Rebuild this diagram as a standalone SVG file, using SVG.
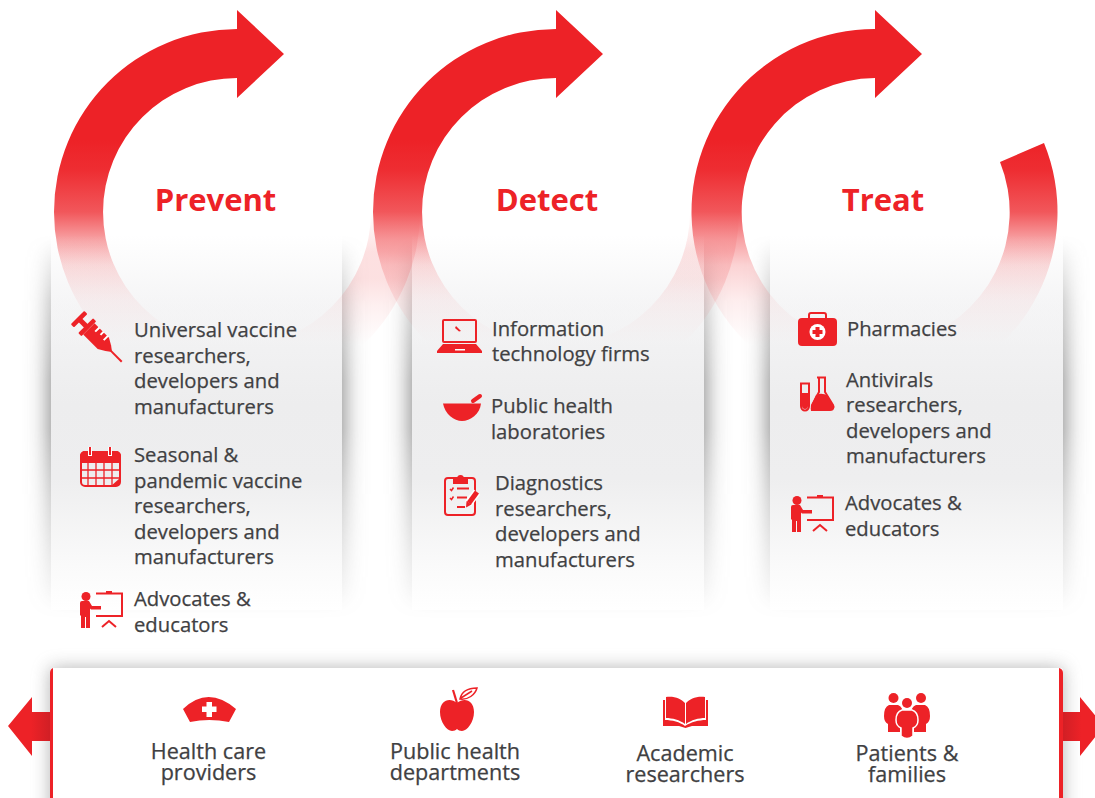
<svg xmlns="http://www.w3.org/2000/svg" width="1095" height="798" viewBox="0 0 1095 798">
<style>
.t{font-family:"Open Sans","Noto Sans","Liberation Sans",sans-serif;font-size:20.250px;fill:#404042;stroke:#404042;stroke-width:.25px}
.b{font-size:21.600px}
.c{text-anchor:middle}
.h{font-family:"Open Sans","Noto Sans","Liberation Sans",sans-serif;font-size:31px;font-weight:700;fill:#ed2227;text-anchor:middle}
.r{fill:#ed2227}
.o{fill:none;stroke:#ed2227;stroke-width:2}
.w{fill:#fff}
</style>
<defs>
<linearGradient id="arc" gradientUnits="userSpaceOnUse" x1="0" y1="110" x2="0" y2="345">
<stop offset="0" stop-color="#ed2227"/>
<stop offset=".128" stop-color="#ed2227"/>
<stop offset=".255" stop-color="#ed2227" stop-opacity=".95"/>
<stop offset=".434" stop-color="#ed2227" stop-opacity=".76"/>
<stop offset=".553" stop-color="#ed2227" stop-opacity=".42"/>
<stop offset=".66" stop-color="#ed2227" stop-opacity=".2"/>
<stop offset=".81" stop-color="#ed2227" stop-opacity=".08"/>
<stop offset="1" stop-color="#ed2227" stop-opacity="0"/>
</linearGradient>
<linearGradient id="arcr" gradientUnits="userSpaceOnUse" x1="0" y1="212" x2="0" y2="345">
<stop offset="0" stop-color="#ed2227" stop-opacity="0"/>
<stop offset=".3" stop-color="#ed2227" stop-opacity=".14"/>
<stop offset=".5" stop-color="#ed2227" stop-opacity=".14"/>
<stop offset=".7" stop-color="#ed2227" stop-opacity=".07"/>
<stop offset="1" stop-color="#ed2227" stop-opacity="0"/>
</linearGradient>
<linearGradient id="panel" gradientUnits="userSpaceOnUse" x1="0" y1="235" x2="0" y2="610">
<stop offset="0" stop-color="#fff"/>
<stop offset=".2" stop-color="#f4f4f5"/>
<stop offset=".45" stop-color="#ededee"/>
<stop offset=".65" stop-color="#eeeeef"/>
<stop offset=".88" stop-color="#fafafa"/>
<stop offset="1" stop-color="#fff"/>
</linearGradient>
<linearGradient id="veil" gradientUnits="userSpaceOnUse" x1="0" y1="235" x2="0" y2="345">
<stop offset="0" stop-color="#fff" stop-opacity="0"/>
<stop offset=".5" stop-color="#f7f7f8" stop-opacity=".35"/>
<stop offset="1" stop-color="#f2f2f3" stop-opacity=".6"/>
</linearGradient>
<linearGradient id="sg" gradientUnits="userSpaceOnUse" x1="0" y1="235" x2="0" y2="620">
<stop offset="0" stop-color="#fff" stop-opacity="0"/>
<stop offset=".17" stop-color="#fff" stop-opacity=".5"/>
<stop offset=".38" stop-color="#fff" stop-opacity=".82"/>
<stop offset=".5" stop-color="#fff" stop-opacity=".82"/>
<stop offset=".7" stop-color="#fff" stop-opacity=".45"/>
<stop offset="1" stop-color="#fff" stop-opacity="0"/>
</linearGradient>
<linearGradient id="la" x1="0" x2="1" y1="0" y2="0"><stop offset="0" stop-color="#ed2227"/><stop offset=".55" stop-color="#ed2227"/><stop offset="1" stop-color="#d11f25"/></linearGradient>
<linearGradient id="ra" x1="0" x2="1" y1="0" y2="0"><stop offset="0" stop-color="#d11f25"/><stop offset=".45" stop-color="#ed2227"/><stop offset="1" stop-color="#ed2227"/></linearGradient>
<mask id="sm" maskUnits="userSpaceOnUse" x="0" y="200" width="1095" height="450"><rect x="0" y="200" width="1095" height="450" fill="url(#sg)"/></mask>
<filter id="b" x="-30%" y="-10%" width="160%" height="120%"><feGaussianBlur stdDeviation="12"/></filter>
<filter id="b2" x="-5%" y="-30%" width="110%" height="160%"><feGaussianBlur stdDeviation="9"/></filter>
<g id="presenter">
<circle class="r" cx="86" cy="596.500" r="4.500"/>
<path class="r" d="M80,603 q0,-2 2,-2 h7 l3,5 h9 v3.500 h-10 l-1,-1 v19.500 h-4 v-11 h-1 v11 h-4 v-12 l-1,-1 z"/>
<path class="o" d="M96,593.500 H122 V616 H96"/>
<rect class="r" x="106" y="591" width="6" height="3"/>
<path class="o" d="M102,627 L109,621 L116,627"/>
</g>
</defs>
<rect width="1095" height="798" fill="#fff"/>

<g id="panels">
<g mask="url(#sm)" fill="#555">
<rect x="51" y="235" width="291" height="375" filter="url(#b)"/>
<rect x="412" y="235" width="292" height="375" filter="url(#b)"/>
<rect x="770" y="235" width="293" height="375" filter="url(#b)"/>
</g>
<rect x="51" y="235" width="291" height="375" fill="url(#panel)"/>
<rect x="412" y="235" width="292" height="375" fill="url(#panel)"/>
<rect x="770" y="235" width="293" height="375" fill="url(#panel)"/>
</g>

<g id="connectors">
<path fill="url(#arcr)" d="M237,346 A134,134 0 0 0 371,212 H420 A183,183 0 0 1 237,395 Z"/>
<path fill="url(#arcr)" d="M556,346 A134,134 0 0 0 690,212 H739 A183,183 0 0 1 556,395 Z"/>
<path fill="url(#arc)" d="M237,10 L284,54 L237,98 V78 A134,134 0 0 0 237,346 V395 A183,183 0 0 1 237,29 Z"/>
<path fill="url(#arc)" d="M556,10 L603,54 L556,98 V78 A134,134 0 0 0 556,346 V395 A183,183 0 0 1 556,29 Z"/>
<path fill="url(#arc)" d="M875,10 L922,54 L875,98 V78 A134,134 0 1 0 1000,162 L1044,143 A183,183 0 1 1 875,29 Z"/>
</g>

<g id="panel-veils">
<rect x="51" y="235" width="291" height="110" fill="url(#veil)"/>
<rect x="412" y="235" width="292" height="110" fill="url(#veil)"/>
<rect x="770" y="235" width="293" height="110" fill="url(#veil)"/>
</g>

<g id="prevent">
<text class="h" x="215.500" y="211">Prevent</text>
<g id="universal-vaccine">
<g transform="translate(80,320) rotate(45)">
<rect class="r" x="-3.500" y="-9.500" width="4.500" height="19" rx="1"/>
<rect class="r" x="0" y="-2.500" width="9" height="5"/>
<rect class="r" x="8" y="-10.500" width="4.500" height="21" rx="1"/>
<path class="r" d="M12.500,-8 H33 L40,-4 L44,-1 V1 L40,4 L33,8 H12.500 Z"/>
<rect class="r" x="43" y="-1" width="16" height="2"/>
<path class="w" d="M18,-8.500 h2 v6 h-2z M24,-8.500 h2 v4.500 h-2z M30,-8.500 h2 v6 h-2z"/>
</g>
<text class="t"><tspan x="134" y="337">Universal vaccine</tspan><tspan x="134" y="362.500">researchers,</tspan><tspan x="134" y="388">developers and</tspan><tspan x="134" y="413.500">manufacturers</tspan></text>
</g>
<g id="seasonal-vaccine">
<rect x="81" y="452" width="39" height="34" rx="4" class="o"/>
<path class="r" d="M80,456 a5,5 0 0 1 5,-5 h31 a5,5 0 0 1 5,5 v7 h-41z"/>
<path fill="none" stroke="#ed2227" stroke-width="1.300" d="M81,470 H120 M81,478 H120 M88,463 V486 M96,463 V486 M104,463 V486 M112,463 V486"/>
<path class="w" d="M88,447 h4 v9 h-4z M108,447 h4 v9 h-4z"/>
<path class="r" d="M89,447 h2 v8 h-2z M109,447 h2 v8 h-2z M120,478 L111,486 H116 Q120,486 120,482z"/>
<text class="t"><tspan x="134" y="462">Seasonal &amp;</tspan><tspan x="134" y="487.500">pandemic vaccine</tspan><tspan x="134" y="513">researchers,</tspan><tspan x="134" y="538.500">developers and</tspan><tspan x="134" y="564">manufacturers</tspan></text>
</g>
<g id="advocates-1">
<use href="#presenter"/>
<text class="t"><tspan x="134" y="606">Advocates &amp;</tspan><tspan x="134" y="631.500">educators</tspan></text>
</g>
</g>

<g id="detect">
<text class="h" x="547" y="211">Detect</text>
<g id="it-firms">
<rect class="o" x="443" y="320" width="33" height="22" rx="1"/>
<path class="r" d="M443,344 H476 L482,351 V353 H437 V351 Z"/>
<rect class="w" x="455" y="349" width="10" height="1.500"/>
<path class="r" d="M456,326 L461,331 L459,331.500 L455,328z"/>
<text class="t"><tspan x="492" y="335.500">Information</tspan><tspan x="492" y="361">technology firms</tspan></text>
</g>
<g id="public-health-labs">
<path class="r" d="M443,403.500 H481 C480,414 470,421 462,421 C454,421 445,414 443,403.500 Z"/>
<path fill="none" stroke="#ed2227" stroke-width="4" stroke-linecap="round" d="M473,401 L480,396"/>
<text class="t"><tspan x="491" y="413">Public health</tspan><tspan x="491" y="438.500">laboratories</tspan></text>
</g>
<g id="diagnostics">
<rect class="o" x="445" y="478" width="30" height="37" rx="3"/>
<path class="r" d="M453,484 V479 H457 a3.500,4 0 0 1 7,0 H468 V484 Z"/>
<path fill="none" stroke="#ed2227" stroke-width="1.500" d="M450,489 l1.500,1.500 l2,-3 M450,498 l1.500,1.500 l2,-3"/>
<path fill="none" stroke="#ed2227" stroke-width="2" d="M457,488.500 H469 M457,497.500 H467 M457,507 H465"/>
<path fill="none" stroke="#fff" stroke-width="8" d="M477,492 L468,504"/>
<path fill="none" stroke="#ed2227" stroke-width="5" d="M477,492 L469,503"/>
<path class="r" d="M466.500,501 L471.500,504.500 L466,507.500 Z"/>
<text class="t"><tspan x="495" y="490">Diagnostics</tspan><tspan x="495" y="515.500">researchers,</tspan><tspan x="495" y="541">developers and</tspan><tspan x="495" y="566.500">manufacturers</tspan></text>
</g>
</g>

<g id="treat">
<text class="h" x="883" y="211">Treat</text>
<g id="pharmacies">
<rect class="o" x="809" y="313" width="17" height="8" rx="2"/>
<rect class="r" x="798" y="318" width="39" height="28" rx="4"/>
<circle class="w" cx="817.500" cy="332" r="8"/>
<path class="r" d="M815.500,327 h4 v3 h3 v4 h-3 v3 h-4 v-3 h-3 v-4 h3z"/>
<text class="t" x="847" y="335.500">Pharmacies</text>
</g>
<g id="antivirals">
<path class="o" d="M801,383.500 V406 a3.500,4 0 0 0 8,0 V383.500 M800,383.500 H810"/>
<path class="r" d="M802,393 h6 V406 a3,3 0 0 1 -6,0z"/>
<path class="o" d="M817,377.500 H826 M819,378 V392 L812,405 Q811,409 815,409 H830 Q835,409 833,405 L825,392 V378"/>
<path class="r" d="M816,395 Q822,392 828,396 L834,408 Q834,411 830,411 H811 Q810,408 812,404 Z"/>
<text class="t"><tspan x="846" y="387">Antivirals</tspan><tspan x="846" y="412">researchers,</tspan><tspan x="846" y="438">developers and</tspan><tspan x="846" y="463">manufacturers</tspan></text>
</g>
<g id="advocates-2">
<use href="#presenter" transform="translate(711,-96)"/>
<text class="t"><tspan x="845" y="510">Advocates &amp;</tspan><tspan x="845" y="535.500">educators</tspan></text>
</g>
</g>

<g id="stakeholders">
<rect x="50" y="668" width="1013" height="160" fill="#777" filter="url(#b2)" opacity=".55"/>
<path fill="url(#la)" d="M8,726 L32,697 V712 H50 V741 H32 V756 Z"/>
<path fill="url(#ra)" d="M1063,712 H1080 V697 L1104,726 L1080,756 V741 H1063 Z"/>
<rect x="50" y="668" width="1013" height="135" rx="3" fill="#fff"/>
<path class="r" d="M50,798 V673 Q50,669 53,668 V798 Z M1059,798 V668 Q1063,669 1063,673 V798 Z"/>
<g id="health-care-providers">
<path class="r" d="M183,709 Q208,685 236,709 L229,722 Q209,718 190,722 Z"/>
<path class="w" d="M206.500,702 h5.500 v4.500 h4.500 v5.500 h-4.500 v5 h-5.500 v-5 h-4.500 v-5.500 h4.500z"/>
<text class="t b c"><tspan x="208.500" y="759">Health care</tspan><tspan x="208.500" y="780">providers</tspan></text>
</g>
<g id="public-health-departments">
<path class="r" d="M457,703 C450,697 440,700 440,712 C440,722 447,731 452,731 C454,731 456,730 457,729 C458,730 460,731 462,731 C467,731 474,722 474,712 C474,700 464,697 457,703 Z"/>
<path fill="none" stroke="#ed2227" stroke-width="2.200" d="M453,690 L457,703"/>
<path fill="none" stroke="#ed2227" stroke-width="1.500" d="M460,699 C462,690 470,688 477,688 C475,695 468,700 460,699 Z M461,698 L472,691"/>
<text class="t b c"><tspan x="455" y="759">Public health</tspan><tspan x="455" y="780">departments</tspan></text>
</g>
<g id="academic-researchers">
<path class="r" d="M666,697 C675,696 681,699 685,703 V724 C680,720 672,718 666,718 Z M705,697 C696,696 690,699 686,703 V724 C691,720 699,718 705,718 Z"/>
<path class="r" d="M663,700 H665 V720 C672,720 680,722 685,726 C691,722 699,720 706,720 V700 H708 V726 H692 L685.500,728 L679,726 H663 Z"/>
<text class="t b c"><tspan x="685" y="761">Academic</tspan><tspan x="685" y="782">researchers</tspan></text>
</g>
<g id="patients-families">
<circle class="r" cx="893.500" cy="698" r="5"/>
<circle class="r" cx="921" cy="698" r="5"/>
<path class="r" d="M889,705 H898 Q903,707 903,714 V722 L900,723 V732 H888 V724 Q884,722 884,716 Q884,707 889,705 Z"/>
<path class="r" d="M916,705 H925 Q930,707 930,716 Q930,722 926,724 V732 H914 V723 L911,722 V714 Q911,707 916,705 Z"/>
<circle cx="907" cy="703" r="6.500" class="w"/>
<circle class="r" cx="907" cy="703" r="5"/>
<path class="r" stroke="#fff" stroke-width="1.500" d="M902,710 H912 Q918,712 918,720 Q918,726 913,728 V736 Q907,741 901,736 V728 Q896,726 896,720 Q896,712 902,710 Z"/>
<text class="t b c"><tspan x="907" y="761">Patients &amp;</tspan><tspan x="907" y="782">families</tspan></text>
</g>
</g>
</svg>
